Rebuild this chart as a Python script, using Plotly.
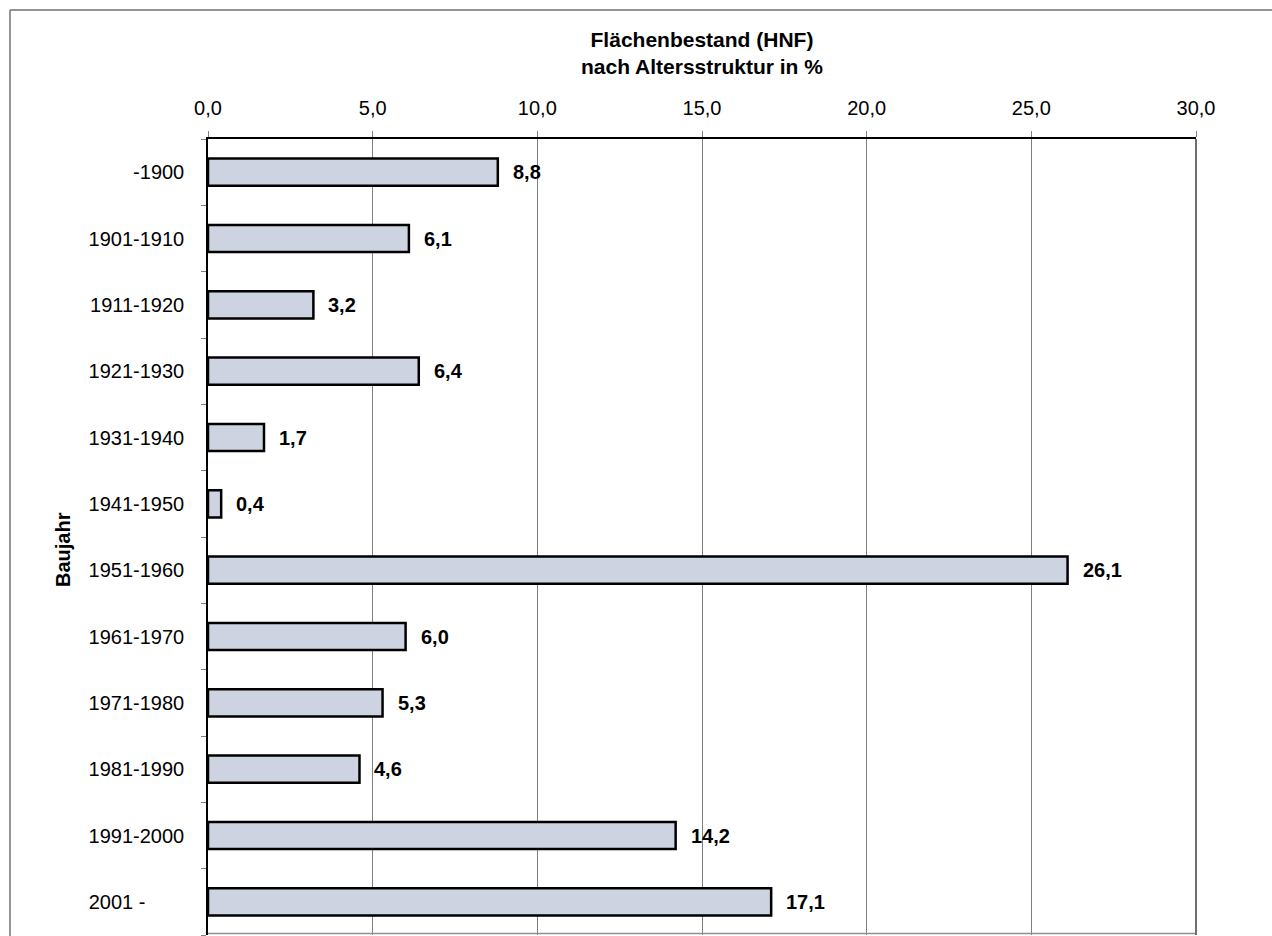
import plotly.graph_objects as go

categories = ["-1900", "1901-1910", "1911-1920", "1921-1930", "1931-1940", "1941-1950",
              "1951-1960", "1961-1970", "1971-1980", "1981-1990", "1991-2000", "2001 -"]
values = [8.8, 6.1, 3.2, 6.4, 1.7, 0.4, 26.1, 6.0, 5.3, 4.6, 14.2, 17.1]
x_ticks = [0, 5, 10, 15, 20, 25, 30]

title_text = "Flächenbestand (HNF)<br>nach Altersstruktur in %"
y_title = "Baujahr"

FONT = "Liberation Sans, Arial, sans-serif"
W, H = 1272, 936
L, R, T, B = 208, 76, 139, 1
pw, ph = W - L - R, H - T - B

def px_x(p):
    return (p - L) / pw

def px_y(p):
    return (H - B - p) / ph

idx = list(range(len(categories)))
# pad last label with non-breaking spaces like the original
ticktext = [c if c != "2001 -" else c + "\u00a0" * 7 for c in categories]

fig = go.Figure()
fig.add_trace(go.Bar(
    y=idx, x=values, orientation="h",
    marker=dict(color="#CDD3E1", line=dict(color="#000000", width=2.5)),
    width=0.41, customdata=categories,
    hovertemplate="%{customdata}: %{x:.1f}<extra></extra>",
))

for i, v in zip(idx, values):
    fig.add_annotation(x=v, y=i, xref="x", yref="y", text=f"<b>{v:.1f}</b>".replace(".", ","),
                       showarrow=False, xanchor="left", yanchor="middle", xshift=13,
                       font=dict(family=FONT, size=20, color="#000000"))

fig.add_annotation(x=px_x(702), y=px_y(53), xref="paper", yref="paper",
                   text="<b>" + title_text + "</b>", showarrow=False,
                   xanchor="center", yanchor="middle",
                   font=dict(family=FONT, size=21, color="#000000"))
fig.add_annotation(x=px_x(63), y=px_y(550), xref="paper", yref="paper",
                   text="<b>" + y_title + "</b>", showarrow=False, textangle=-90,
                   xanchor="center", yanchor="middle",
                   font=dict(family=FONT, size=20, color="#000000"))

# outer frame (left and top), plot bottom and right borders
frame = dict(color="#707070", width=1.5)
fig.add_shape(type="line", xref="paper", yref="paper", x0=px_x(10), x1=px_x(10),
              y0=px_y(10), y1=px_y(936), line=frame)
fig.add_shape(type="line", xref="paper", yref="paper", x0=px_x(10), x1=px_x(1272),
              y0=px_y(10), y1=px_y(10), line=frame)
fig.add_shape(type="line", xref="paper", yref="paper", x0=0, x1=1, y0=0.002, y1=0.002,
              line=dict(color="#909090", width=1.5))
fig.add_shape(type="line", xref="paper", yref="paper", x0=1, x1=1, y0=0, y1=1,
              line=dict(color="#707070", width=2))

fig.update_layout(
    width=W, height=H,
    margin=dict(l=L, r=R, t=T, b=B, pad=0),
    paper_bgcolor="white", plot_bgcolor="white",
    separators=",.",
    showlegend=False,
    font=dict(family=FONT, size=20, color="#000000"),
    xaxis=dict(side="top", range=[0, 30], tickvals=x_ticks, tickformat=".1f",
               showgrid=True, gridcolor="#808080", gridwidth=1,
               showline=True, linecolor="#000000", linewidth=1.5,
               ticks="outside", ticklen=6, tickcolor="#808080",
               ticklabelstandoff=8, zeroline=False,
               tickfont=dict(family=FONT, size=20, color="#000000")),
    yaxis=dict(range=[len(categories) - 0.5, -0.5], type="linear",
               tickvals=idx, ticktext=ticktext,
               ticks="", showline=True, linecolor="#000000", linewidth=1.5,
               showgrid=False, zeroline=False, ticklabelstandoff=18,
               tickfont=dict(family=FONT, size=20, color="#000000"),
               minor=dict(tickvals=[i + 0.5 for i in idx[:-1]] + [-0.5, len(idx) - 0.5],
                          ticks="outside", ticklen=5, tickcolor="#808080", showgrid=False)),
)

fig.write_html("out.html", config={"displayModeBar": False},
               post_script="document.body.style.margin='0px';document.body.style.overflow='hidden';")
